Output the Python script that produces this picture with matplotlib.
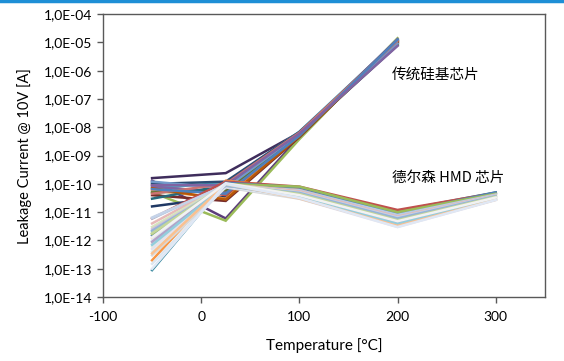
import matplotlib
matplotlib.use("Agg")
import matplotlib.pyplot as plt
from matplotlib.ticker import FixedLocator, FuncFormatter, NullLocator

plt.rcParams['font.family'] = ['Lato', 'Noto Sans CJK SC', 'DejaVu Sans']
plt.rcParams['axes.unicode_minus'] = False

# --- data ---
si_temps = [-50, 25, 100, 200]
hmd_temps = [-50, 25, 100, 200, 300]

# conventional silicon chips: leakage at -50, 25, 100, 200 C
si_values = [
    [1.6e-10, 2.4e-10, 6.5e-9, 9.0e-6],
    [1.3e-10, 6.0e-12, 4.5e-9, 1.2e-5],
    [5.0e-11, 5.0e-12, 3.8e-9, 1.4e-5],
    [1.6e-11, 3.5e-11, 5.5e-9, 8.0e-6],
    [1.1e-10, 8.0e-11, 6.0e-9, 1.1e-5],
    [9.0e-11, 4.0e-11, 5.5e-9, 1.0e-5],
    [7.0e-11, 1.1e-10, 7.0e-9, 1.2e-5],
    [6.0e-11, 3.0e-11, 5.0e-9, 9.5e-6],
    [8.0e-11, 5.0e-11, 6.0e-9, 1.3e-5],
    [4.0e-11, 2.5e-11, 4.5e-9, 1.1e-5],
    [1.0e-10, 1.2e-10, 6.8e-9, 1.0e-5],
    [5.0e-11, 6.0e-11, 5.2e-9, 8.5e-6],
    [3.0e-11, 9.0e-11, 6.2e-9, 1.2e-5],
    [7.0e-11, 2.8e-11, 4.8e-9, 1.05e-5],
    [1.2e-10, 7.0e-11, 5.8e-9, 9.0e-6],
    [4.5e-11, 1.0e-10, 6.5e-9, 1.15e-5],
    [6.5e-11, 4.5e-11, 5.0e-9, 1.25e-5],
    [9.0e-11, 9.0e-11, 6.0e-9, 7.5e-6],
]
si_colors = ['#3F2D5C', '#5C3D7A', '#9BBB59', '#1F3864', '#4F81BD', '#C0504D',
             '#4BACC6', '#F79646', '#8064A2', '#772C2A', '#2C4D75', '#5F7530',
             '#276A7C', '#B65708', '#729ACA', '#CD7371', '#4F81BD', '#8064A2']

# HMD chips: leakage at -50, 25, 100, 200, 300 C
hmd_values = [
    [9.0e-14, 1.1e-10, 6.0e-11, 1.1e-11, 5.0e-11],
    [2.0e-13, 1.3e-10, 7.0e-11, 1.0e-11, 4.5e-11],
    [6.0e-12, 1.2e-10, 8.0e-11, 1.2e-11, 4.8e-11],
    [1.5e-12, 1.1e-10, 7.5e-11, 9.0e-12, 5.0e-11],
    [1.7e-12, 1.0e-10, 8.0e-11, 1.0e-11, 4.5e-11],
    [6.0e-12, 9.0e-11, 6.0e-11, 8.0e-12, 4.2e-11],
    [4.0e-12, 1.0e-10, 5.5e-11, 7.0e-12, 4.0e-11],
    [3.0e-12, 9.5e-11, 5.0e-11, 6.0e-12, 3.8e-11],
    [2.5e-12, 8.5e-11, 4.5e-11, 5.5e-12, 3.6e-11],
    [2.0e-12, 9.0e-11, 4.0e-11, 5.0e-12, 3.4e-11],
    [1.2e-12, 8.0e-11, 4.2e-11, 4.5e-12, 3.2e-11],
    [1.0e-12, 1.0e-10, 3.8e-11, 4.0e-12, 3.0e-11],
    [8.0e-13, 9.0e-11, 3.5e-11, 3.5e-12, 3.0e-11],
    [6.0e-13, 8.5e-11, 3.2e-11, 3.2e-12, 2.8e-11],
    [5.0e-13, 9.5e-11, 3.0e-11, 3.0e-12, 2.7e-11],
    [4.0e-13, 8.0e-11, 3.5e-11, 3.8e-12, 2.9e-11],
    [3.0e-13, 7.5e-11, 3.0e-11, 3.4e-12, 2.8e-11],
    [1.5e-13, 8.0e-11, 3.3e-11, 3.6e-12, 3.0e-11],
    [6.5e-12, 9.0e-11, 5.0e-11, 6.5e-12, 3.8e-11],
    [2.2e-12, 8.5e-11, 4.8e-11, 6.0e-12, 3.7e-11],
    [1.8e-12, 9.5e-11, 4.4e-11, 5.2e-12, 3.5e-11],
    [9.0e-13, 8.8e-11, 3.6e-11, 4.2e-12, 3.1e-11],
    [7.0e-13, 9.2e-11, 3.4e-11, 3.9e-12, 2.9e-11],
    [3.5e-13, 1.0e-10, 3.1e-11, 3.3e-12, 2.75e-11],
    [1.3e-12, 1.05e-10, 4.0e-11, 4.8e-12, 3.3e-11],
    [1.0e-13, 1.0e-10, 3.2e-11, 3.0e-12, 2.7e-11],
]
hmd_colors = ['#31859C', '#F79646', '#C0504D', '#4F81BD', '#9BBB59', '#B9CDE5',
              '#E6B9B8', '#D7E4BD', '#CCC1DA', '#B7DEE8', '#FCD5B5', '#DCE6F2',
              '#F2DCDB', '#EBF1DE', '#E5E0EC', '#DBEEF4', '#D9D9D9', '#DDE6F0',
              '#C5D3E8', '#95B3D7', '#C3D69B', '#B3A2C7', '#93CDDD', '#FAC090',
              '#F2F2F2', '#E0E8F5']

y_ticks = [10.0 ** e for e in range(-14, -3)]
x_ticks = [-100, 0, 100, 200, 300]

fig = plt.figure(figsize=(5.64, 3.61), dpi=100)
ax = fig.add_axes([0.1826, 0.177, 0.7834, 0.784])

for vals, c in zip(si_values, si_colors):
    ax.plot(si_temps, vals, color=c, lw=1.8, solid_joinstyle='miter')
for vals, c in zip(hmd_values, hmd_colors):
    ax.plot(hmd_temps, vals, color=c, lw=1.8, solid_joinstyle='miter')

ax.set_yscale('log')
ax.set_ylim(1e-14, 1e-4)
ax.set_xlim(-100, 350)
ax.yaxis.set_major_locator(FixedLocator(y_ticks))
ax.yaxis.set_minor_locator(NullLocator())
ax.yaxis.set_major_formatter(FuncFormatter(
    lambda v, p: ('%.1E' % v).replace('.', ',')))
ax.set_xticks(x_ticks)

for s in ax.spines.values():
    s.set_color('#595959')
    s.set_linewidth(1.0)
ax.tick_params(axis='both', direction='out', length=4, width=1.0,
               color='#595959', labelsize=10, labelcolor='#000000', pad=4)
ax.tick_params(axis='x', pad=6)

ax.set_xlabel('Temperature [°C]', fontsize=11, labelpad=11)
ax.set_ylabel('Leakage Current @ 10V [A]', fontsize=10.5, labelpad=8)

ax.text(194, 7e-7, '传统硅基芯片', fontsize=10.5, ha='left', va='center',
        family=['Noto Sans CJK SC', 'DejaVu Sans'])
ax.text(194, 1.6e-10, '德尔森 HMD 芯片', fontsize=10.5, ha='left', va='center',
        family=['Noto Sans CJK SC', 'DejaVu Sans'])

# thin blue strip across the top edge
fig.add_artist(plt.Line2D([0, 1], [0.997, 0.997], color='#1E8FD6', lw=2.5,
                          transform=fig.transFigure))

fig.savefig('out.png', dpi=100)
